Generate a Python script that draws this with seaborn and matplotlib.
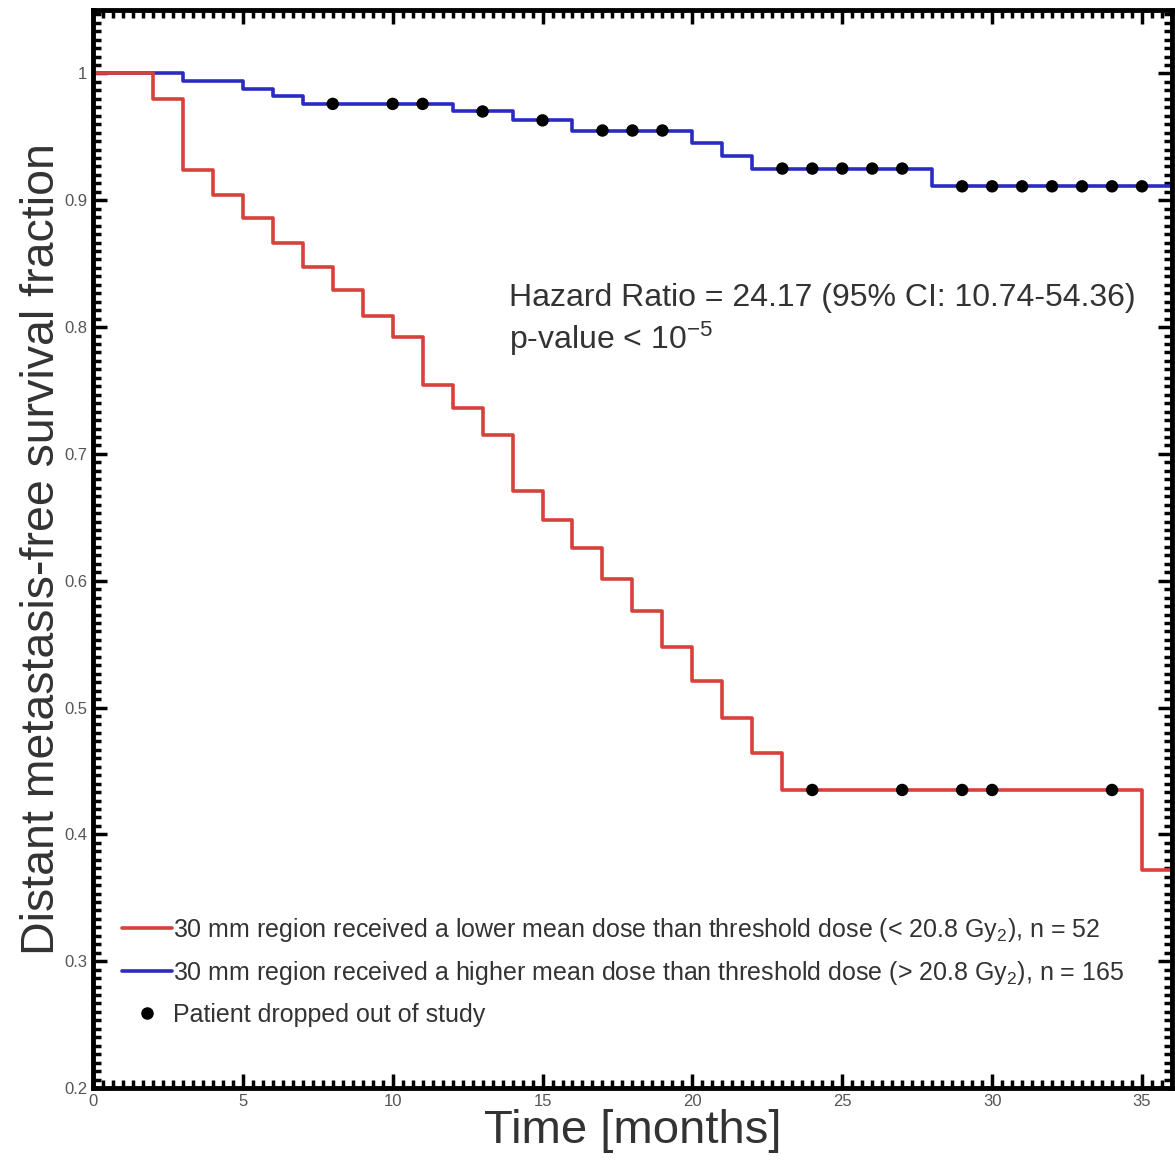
"""
Kaplan-Meier style survival curves, low vs high dose groups
"""

import numpy as np
import pandas as pd
import matplotlib
matplotlib.use("Agg")
import matplotlib.pyplot as plt
from matplotlib.lines import Line2D
from matplotlib.ticker import MultipleLocator
import seaborn as sns

# low dose group (red), step values
low_time = [0, 2, 3, 4, 5, 6, 7, 8, 9, 10, 11, 12, 13, 14, 15, 16, 17, 18,
            19, 20, 21, 22, 23, 35, 36]
low_surv = [1.0, 0.980, 0.924, 0.904, 0.886, 0.866, 0.847, 0.829, 0.809,
            0.792, 0.754, 0.736, 0.715, 0.671, 0.648, 0.626, 0.601, 0.576,
            0.548, 0.521, 0.492, 0.464, 0.435, 0.372, 0.372]
low_cens_time = [24, 27, 29, 30, 34]
low_cens_surv = [0.435, 0.435, 0.435, 0.435, 0.435]

# high dose group (blue)
high_time = [0, 3, 5, 6, 7, 12, 14, 16, 20, 21, 22, 28, 36]
high_surv = [1.0, 0.994, 0.988, 0.982, 0.976, 0.970, 0.963, 0.955, 0.945,
             0.935, 0.925, 0.911, 0.911]
high_cens_time = [8, 10, 11, 13, 15, 17, 18, 19, 23, 24, 25, 26, 27,
                  29, 30, 31, 32, 33, 34, 35]
high_cens_surv = [0.976, 0.976, 0.976, 0.970, 0.963, 0.955, 0.955, 0.955,
                  0.925, 0.925, 0.925, 0.925, 0.925,
                  0.911, 0.911, 0.911, 0.911, 0.911, 0.911, 0.911]

group_labels = [
    "30 mm region received a lower mean dose than threshold dose (< 20.8 Gy$_2$), n = 52",
    "30 mm region received a higher mean dose than threshold dose (> 20.8 Gy$_2$), n = 165",
]
censor_label = "Patient dropped out of study"

RED = "#d8403c"
BLUE = "#2b2bc4"

sns.set_style("white")
plt.rcParams["font.family"] = ["Liberation Sans", "DejaVu Sans"]
plt.rcParams["mathtext.fontset"] = "custom"
plt.rcParams["mathtext.rm"] = "Liberation Sans"
plt.rcParams["mathtext.it"] = "Liberation Sans:italic"

curves = pd.concat([
    pd.DataFrame({"time": low_time, "surv": low_surv, "group": "low"}),
    pd.DataFrame({"time": high_time, "surv": high_surv, "group": "high"}),
])
censored = pd.concat([
    pd.DataFrame({"time": low_cens_time, "surv": low_cens_surv}),
    pd.DataFrame({"time": high_cens_time, "surv": high_cens_surv}),
])

fig = plt.figure(figsize=(11.75, 11.67), dpi=100)
ax = fig.add_axes([0.0791, 0.0677, 0.9183, 0.9237])

sns.lineplot(data=curves, x="time", y="surv", hue="group",
             palette={"low": RED, "high": BLUE}, hue_order=["high", "low"],
             estimator=None, sort=False, drawstyle="steps-post",
             linewidth=2.6, legend=False, ax=ax)
sns.scatterplot(data=censored, x="time", y="surv", color="black", s=80,
                edgecolor="none", zorder=5, legend=False, ax=ax)

ax.set_xlim(0, 36)
ax.set_ylim(0.2, 1.05)
ax.xaxis.set_major_locator(MultipleLocator(5))
ax.xaxis.set_minor_locator(MultipleLocator(5 / 15))
ax.yaxis.set_minor_locator(MultipleLocator(0.1 / 15))
ax.set_yticks(np.arange(0.2, 1.01, 0.1))
ax.set_yticklabels(["0.2", "0.3", "0.4", "0.5", "0.6", "0.7", "0.8", "0.9", "1"])

ax.tick_params(which="both", direction="in", top=True, right=True,
               bottom=True, left=True,
               colors="black", labelcolor="#555555", labelsize=12)
ax.tick_params(which="major", length=10, width=2.5, pad=4)
ax.tick_params(which="minor", length=6, width=2.5)
for sp in ax.spines.values():
    sp.set_linewidth(3.5)
    sp.set_color("black")

ax.set_xlabel("Time [months]", fontsize=34, color="#333333", labelpad=0)
ax.set_ylabel("Distant metastasis-free survival fraction", fontsize=33.5,
              color="#333333", labelpad=0)

ax.text(0.386, 0.747, "Hazard Ratio = 24.17 (95% CI: 10.74-54.36)",
        transform=ax.transAxes, fontsize=23, color="#333333", va="top")
ax.text(0.386, 0.713, "p-value < 10$^{-5}$",
        transform=ax.transAxes, fontsize=23, color="#333333", va="top")

handles = [
    Line2D([], [], color=RED, linewidth=2.6),
    Line2D([], [], color=BLUE, linewidth=2.6),
    Line2D([], [], color="black", marker="o", linestyle="none", markersize=8),
]
ax.legend(handles, group_labels + [censor_label], loc="lower left",
          bbox_to_anchor=(0.006, 0.036), frameon=False, fontsize=18,
          handlelength=2.0, handletextpad=0.05, labelspacing=0.62,
          labelcolor="#333333")

fig.savefig("out.png", dpi=100, facecolor="white")
